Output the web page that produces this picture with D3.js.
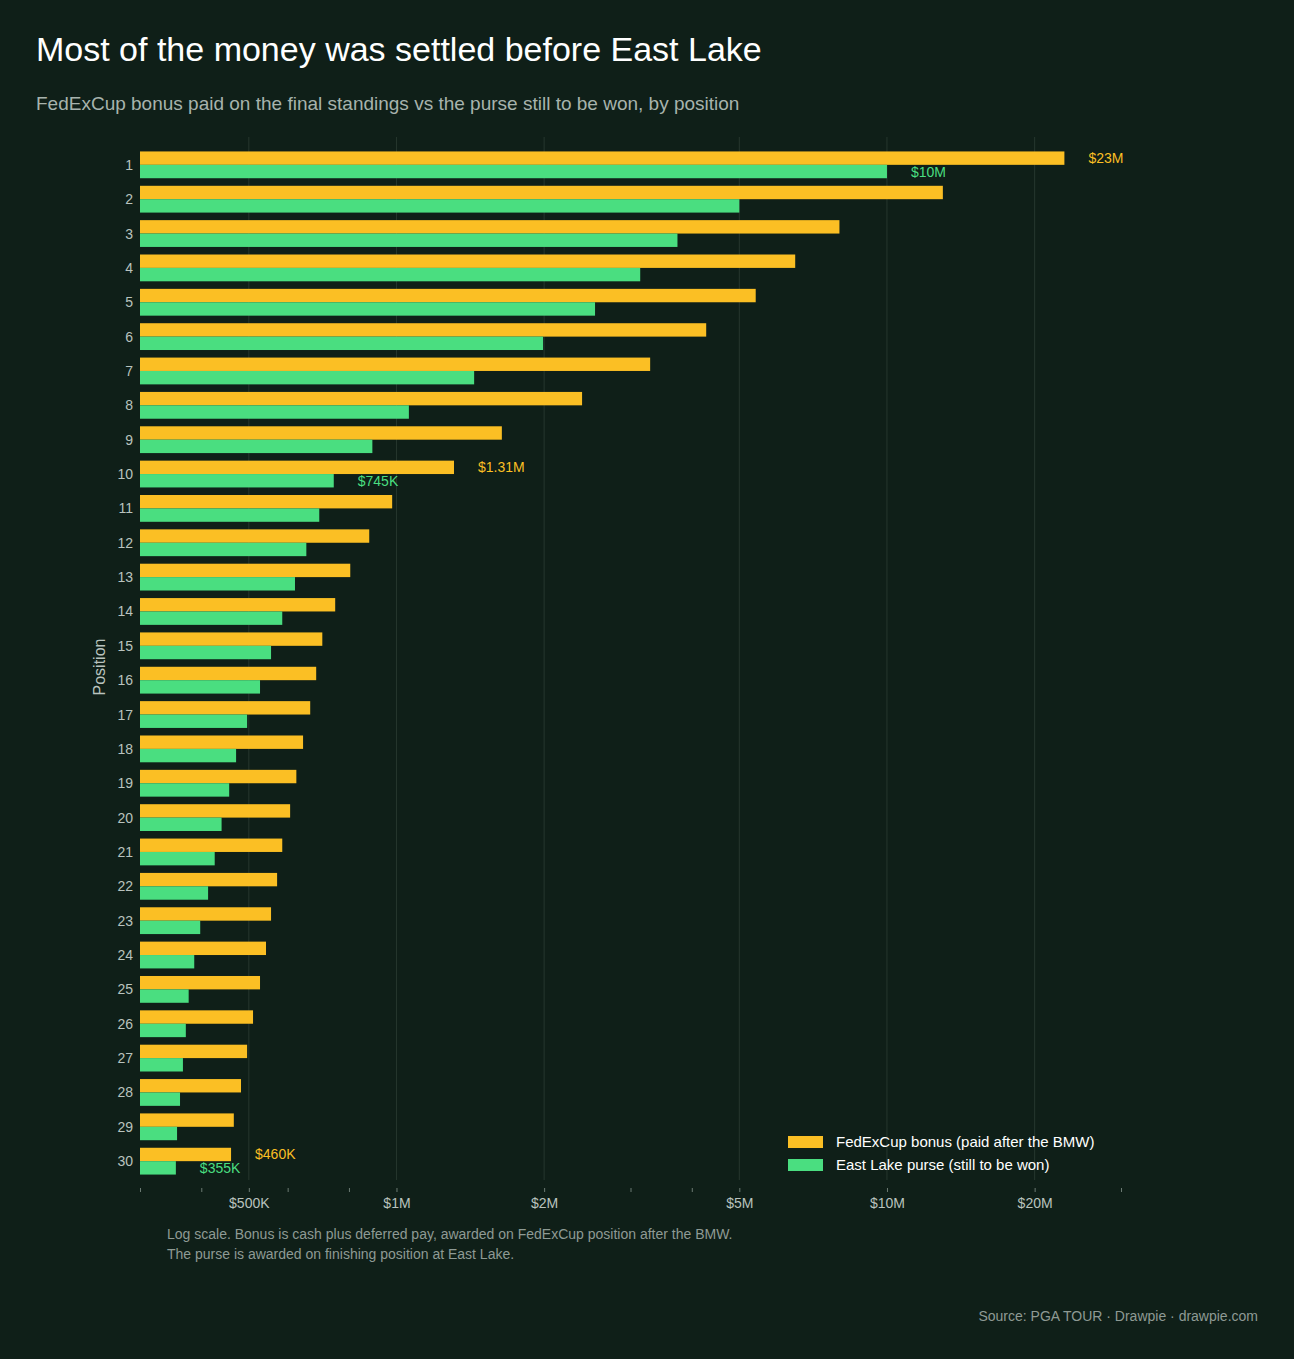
<!DOCTYPE html>
<html><head><meta charset="utf-8">
<script src="https://cdn.jsdelivr.net/npm/d3@7/dist/d3.min.js"></script>
<style>body{margin:0;background:#0f1f18;font-family:"Liberation Sans",Arial,sans-serif}</style>
</head><body><svg id="c" width="1294" height="1359"></svg>
<script>
const positions = d3.range(1,31);
const bonus = [23e6,13e6,8e6,6.5e6,5.4e6,4.28e6,3.29e6,2.39e6,1.64e6,1.31e6,980e3,880e3,805e3,750e3,706e3,686e3,667e3,645e3,625e3,607e3,585e3,571e3,555e3,542e3,527e3,510e3,496e3,482e3,466e3,460e3];
const purse = [10e6,5e6,3.74e6,3.14e6,2.54e6,1.99e6,1.44e6,1.06e6,893e3,745e3,696e3,655e3,621e3,585e3,555e3,527e3,496e3,471e3,456e3,440e3,426e3,413e3,398e3,387e3,377e3,372e3,367e3,362e3,357e3,355e3];
const majorTicks = [5e5,1e6,2e6,5e6,1e7,2e7];
const majorLabels = ["$500K","$1M","$2M","$5M","$10M","$20M"];
const minorTicks = [3e5,4e5,6e5,8e5,3e6,4e6,3e7];
const labelled = {0:["$23M","$10M"],9:["$1.31M","$745K"],29:["$460K","$355K"]};
const OR="#fbbf24", GR="#4ade80";
const svg=d3.select("#c");
svg.append("rect").attr("width",1294).attr("height",1359).attr("fill","#0f1f18");
const x=d3.scaleLog().domain([3e5,3e7]).range([140,1121]);
const y=d3.scaleBand().domain(positions).range([148,1178]).paddingInner(0.22).paddingOuter(0.1);
svg.append("text").attr("x",36).attr("y",61).attr("fill","#fff").attr("font-size",34).text("Most of the money was settled before East Lake");
svg.append("text").attr("x",36).attr("y",110).attr("fill","#a7b3ad").attr("font-size",19).text("FedExCup bonus paid on the final standings vs the purse still to be won, by position");
svg.selectAll(".g").data(majorTicks).join("line").attr("x1",d=>x(d)).attr("x2",d=>x(d)).attr("y1",137).attr("y2",1180).attr("stroke","#26372e").attr("stroke-width",1);
const bh=y.bandwidth()/2;
svg.selectAll(".b").data(bonus).join("rect").attr("x",x(3e5)).attr("y",(d,i)=>y(positions[i])).attr("width",d=>x(d)-x(3e5)).attr("height",bh).attr("fill",OR);
svg.selectAll(".p").data(purse).join("rect").attr("x",x(3e5)).attr("y",(d,i)=>y(positions[i])+bh).attr("width",d=>x(d)-x(3e5)).attr("height",bh).attr("fill",GR);
svg.selectAll(".yl").data(positions).join("text").attr("x",133).attr("y",d=>y(d)+bh+5).attr("text-anchor","end").attr("fill","#b9c3be").attr("font-size",14).text(d=>d);
for(const k in labelled){const i=+k;
 svg.append("text").attr("x",x(bonus[i])+24).attr("y",y(positions[i])+bh/2+5).attr("fill",OR).attr("font-size",14).text(labelled[k][0]);
 svg.append("text").attr("x",x(purse[i])+24).attr("y",y(positions[i])+bh*1.5+5).attr("fill",GR).attr("font-size",14).text(labelled[k][1]);}
svg.append("text").attr("transform","translate(105,667) rotate(-90)").attr("text-anchor","middle").attr("fill","#b9c3be").attr("font-size",16).text("Position");
const ax=d3.axisBottom(x).tickValues(majorTicks.concat(minorTicks)).tickFormat(d=>{const j=majorTicks.indexOf(d);return j>=0?majorLabels[j]:"";}).tickSize(4);
const g=svg.append("g").attr("transform","translate(0,1188)").call(ax);
g.select(".domain").remove();
g.selectAll("line").attr("stroke","#6b7a72");
g.selectAll("text").attr("fill","#b9c3be").attr("font-size",14).attr("font-family","Liberation Sans, Arial").attr("dy","0.9em");
svg.append("text").attr("x",167).attr("y",1239).attr("fill","#8e9a94").attr("font-size",14).text("Log scale. Bonus is cash plus deferred pay, awarded on FedExCup position after the BMW.");
svg.append("text").attr("x",167).attr("y",1259).attr("fill","#8e9a94").attr("font-size",14).text("The purse is awarded on finishing position at East Lake.");
svg.append("text").attr("x",1258).attr("y",1321).attr("text-anchor","end").attr("fill","#8e9a94").attr("font-size",14).text("Source: PGA TOUR  ·  Drawpie · drawpie.com");
const leg=[["FedExCup bonus (paid after the BMW)",OR],["East Lake purse (still to be won)",GR]];
leg.forEach((l,i)=>{svg.append("rect").attr("x",788).attr("y",1136+i*23).attr("width",35).attr("height",12).attr("fill",l[1]);
 svg.append("text").attr("x",836).attr("y",1147+i*23).attr("fill","#fff").attr("font-size",15).text(l[0]);});
</script></body></html>
